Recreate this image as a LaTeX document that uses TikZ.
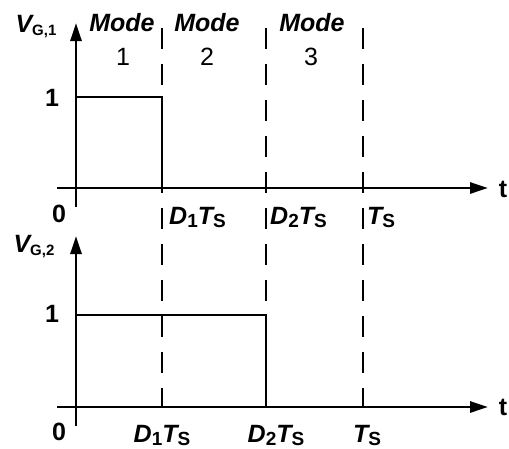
\documentclass[tikz,border=0pt]{standalone}
\usepackage{fontspec}
\setmainfont{Liberation Sans}
\usetikzlibrary{arrows.meta}
\newcommand{\lowsub}[1]{\raisebox{-3pt}{\fontsize{19}{19}\selectfont #1}}
\newcommand{\vsub}[1]{\raisebox{-3pt}{\fontsize{15}{15}\selectfont\bfseries #1}}
\newcommand{\bi}[1]{{\bfseries\itshape #1}}
\begin{document}
\begin{tikzpicture}[x=1pt,y=-1pt,
  axis/.style={line width=2.8pt,-{Triangle[length=18pt,width=11pt]}},
  wave/.style={line width=2.8pt},
  guide/.style={line width=2.8pt,dash pattern=on 21pt off 15pt},
  lbl/.style={font=\fontsize{25}{25}\selectfont\bfseries,inner sep=0pt,anchor=base},
  modelbl/.style={font=\fontsize{25}{25}\selectfont,inner sep=0pt,anchor=base}]
\useasboundingbox (0,0) rectangle (509,448);
% coordinates
\coordinate (y1b) at (76,207);
\coordinate (y1t) at (76,23);
\coordinate (x1l) at (57,188);
\coordinate (x1r) at (488,188);
\coordinate (y2b) at (76,426);
\coordinate (y2t) at (76,236);
\coordinate (x2l) at (57,407);
\coordinate (x2r) at (488,407);
\coordinate (g1a) at (162,28);
\coordinate (g1b) at (162,407);
\coordinate (g2a) at (266,28);
\coordinate (g2b) at (266,407);
\coordinate (g3a) at (363,28);
\coordinate (g3b) at (363,407);
\coordinate (p1a) at (76,97);
\coordinate (p1b) at (162,188);
\coordinate (p2a) at (76,315);
\coordinate (p2b) at (266,407);
% guides
\draw[guide] (g1a) -- (g1b);
\draw[guide] (g2a) -- (g2b);
\draw[guide] (g3a) -- (g3b);
% axes
\draw[axis] (y1b) -- (y1t);
\draw[axis] (x1l) -- (x1r);
\draw[axis] (y2b) -- (y2t);
\draw[axis] (x2l) -- (x2r);
% waveforms
\draw[wave] (p1a) -| (p1b);
\draw[wave] (p2a) -| (p2b);
% labels
\node[lbl] (v1) at (36,32) {\bi{V}\vsub{G,1}};
\node[lbl] (v2) at (34,252) {\bi{V}\vsub{G,2}};
\node[lbl] (one1) at (52,106) {1};
\node[lbl] (one2) at (52,322) {1};
\node[lbl] (zero1) at (59,222) {0};
\node[lbl] (zero2) at (59,440) {0};
\node[lbl] (t1) at (503,197) {t};
\node[lbl] (t2) at (503,415) {t};
\node[lbl,anchor=base west] (a1) at (169,224) {\bi{D}\lowsub{\bfseries 1}\bi{T}\lowsub{S}};
\node[lbl,anchor=base west] (a2) at (270,224) {\bi{D}\lowsub{\bfseries 2}\bi{T}\lowsub{S}};
\node[lbl,anchor=base west] (a3) at (367,224) {\bi{T}\lowsub{S}};
\node[lbl] (b1) at (162,442) {\bi{D}\lowsub{\bfseries 1}\bi{T}\lowsub{S}};
\node[lbl] (b2) at (276,442) {\bi{D}\lowsub{\bfseries 2}\bi{T}\lowsub{S}};
\node[lbl] (b3) at (367,442) {\bi{T}\lowsub{S}};
\node[lbl] (m1) at (122,31) {\bi{Mode}};
\node[lbl] (m2) at (207,31) {\bi{Mode}};
\node[lbl] (m3) at (312,31) {\bi{Mode}};
\node[modelbl] (n1) at (123,65) {1};
\node[modelbl] (n2) at (207,65) {2};
\node[modelbl] (n3) at (311,65) {3};
\end{tikzpicture}
\end{document}
